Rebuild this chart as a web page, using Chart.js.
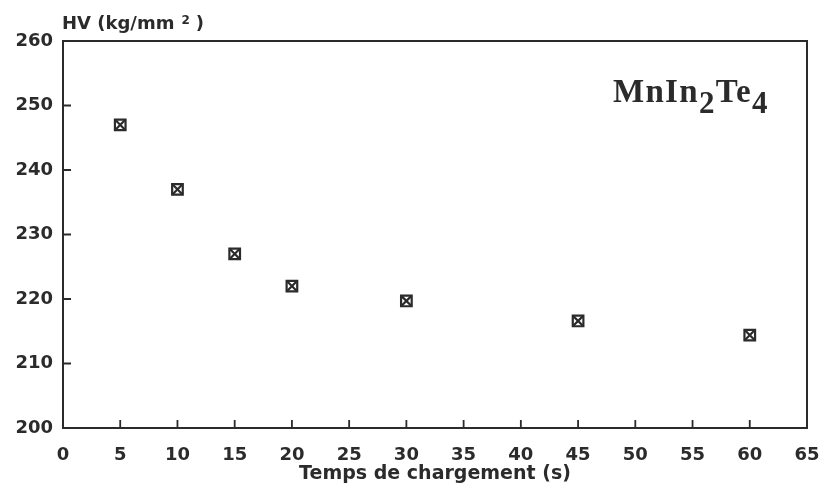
<!DOCTYPE html>
<html>
<head>
<meta charset="utf-8">
<script src="https://cdn.jsdelivr.net/npm/chart.js@4.4.1/dist/chart.umd.min.js"></script>
<style>
  html, body { margin: 0; padding: 0; background: #fff; }
  #wrap { width: 825px; height: 498px; }
</style>
</head>
<body>
<div id="wrap"><canvas id="hv-chart" width="825" height="498"></canvas></div>
<script>
// Dureté Vickers en fonction du temps de chargement
const loadTimes = [5, 10, 15, 20, 30, 45, 60];
const hardness = [247, 237, 227, 222, 219.7, 216.6, 214.4];
const xTicks = [0, 5, 10, 15, 20, 25, 30, 35, 40, 45, 50, 55, 60, 65];
const yTicks = [200, 210, 220, 230, 240, 250, 260];

const INK = '#2b2b2b';
const SANS = '"DejaVu Sans", Verdana, sans-serif';
const SERIF = '"Liberation Serif", "Times New Roman", serif';

const points = loadTimes.map((t, i) => ({ x: t, y: hardness[i] }));

// cadre + graduations intérieures + textes libres
const framePlugin = {
    id: 'frame',
    afterDraw(chart) {
        const { ctx, chartArea: a, scales } = chart;
        ctx.save();
        ctx.strokeStyle = INK;
        ctx.lineWidth = 2;
        ctx.strokeRect(a.left, a.top, a.right - a.left, a.bottom - a.top);

        ctx.lineWidth = 1.8;
        ctx.beginPath();
        xTicks.forEach(v => {
            const px = scales.x.getPixelForValue(v);
            ctx.moveTo(px, a.bottom);
            ctx.lineTo(px, a.bottom - 8);
        });
        yTicks.forEach(v => {
            const py = scales.y.getPixelForValue(v);
            ctx.moveTo(a.left, py);
            ctx.lineTo(a.left + 8, py);
        });
        ctx.stroke();

        // titre de l'axe Y
        ctx.fillStyle = INK;
        ctx.textBaseline = 'alphabetic';
        ctx.textAlign = 'left';
        ctx.font = 'bold 18px ' + SANS;
        const head = 'HV (kg/mm';
        ctx.fillText(head, 62, 29);
        let x = 62 + ctx.measureText(head).width + 7;
        ctx.font = 'bold 12px ' + SANS;
        ctx.fillText('2', x, 24);
        x += ctx.measureText('2').width + 6;
        ctx.font = 'bold 18px ' + SANS;
        ctx.fillText(')', x, 29);

        // formule du composé
        ctx.letterSpacing = '1.3px';
        const parts = [
            { t: 'MnIn', sub: false },
            { t: '2', sub: true },
            { t: 'Te', sub: false },
            { t: '4', sub: true }
        ];
        let cx = 613;
        parts.forEach(p => {
            ctx.font = (p.sub ? 'bold 31px ' : 'bold 33px ') + SERIF;
            ctx.fillText(p.t, cx, p.sub ? 113 : 102);
            cx += ctx.measureText(p.t).width;
        });
        ctx.restore();
    }
};

const marker = (style) => ({
    data: points,
    pointStyle: style,
    pointRadius: 7.5,
    pointHoverRadius: 7.5,
    borderColor: INK,
    backgroundColor: 'rgba(0,0,0,0)',
    pointBorderWidth: 2.2,
    showLine: false
});

new Chart(document.getElementById('hv-chart').getContext('2d'), {
    type: 'scatter',
    data: { datasets: [marker('rect'), marker('crossRot')] },
    options: {
        responsive: false,
        animation: false,
        layout: { padding: { top: 41, right: 18, left: 0, bottom: 0 } },
        plugins: { legend: { display: false }, tooltip: { enabled: false } },
        scales: {
            x: {
                type: 'linear',
                min: 0, max: 65,
                afterBuildTicks: s => { s.ticks = xTicks.map(v => ({ value: v })); },
                afterFit: s => { s.height = 70; s.paddingLeft = 0; s.paddingRight = 0; },
                grid: { display: false, drawTicks: false },
                border: { display: false },
                ticks: {
                    color: INK, padding: 17, maxRotation: 0, autoSkip: false,
                    font: { family: SANS, size: 18, weight: 'bold' }
                },
                title: {
                    display: true,
                    text: 'Temps de chargement (s)',
                    color: INK,
                    padding: { top: 0, bottom: 13 },
                    font: { family: SANS, size: 19, weight: 'bold' }
                }
            },
            y: {
                type: 'linear',
                min: 200, max: 260,
                afterBuildTicks: s => { s.ticks = yTicks.map(v => ({ value: v })); },
                afterFit: s => { s.width = 63; s.paddingTop = 0; s.paddingBottom = 0; },
                grid: { display: false, drawTicks: false },
                border: { display: false },
                ticks: {
                    color: INK, padding: 10, autoSkip: false,
                    font: { family: SANS, size: 18, weight: 'bold' }
                }
            }
        }
    },
    plugins: [framePlugin]
});
</script>
</body>
</html>
